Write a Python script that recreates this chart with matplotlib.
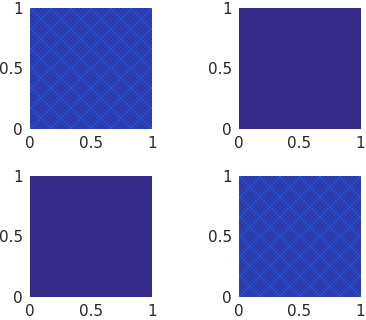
import numpy as np
import matplotlib
matplotlib.use("Agg")
import matplotlib.pyplot as plt
from matplotlib.colors import LinearSegmentedColormap

# colours, dark to bright
field_colors = ["#352a87", "#2b3fb4", "#1f52cf", "#1565dc"]

tick_values = [0, 0.5, 1]
tick_labels = ["0", "0.5", "1"]

# one repeat of the texture, estimated by eye from the zoomed crops
motif = [
    [0.85, 0.30, 0.38, 0.20, 0.38, 0.20, 0.38, 0.20, 0.38, 0.30],
    [0.30, 0.62, 0.30, 0.38, 0.20, 0.38, 0.20, 0.38, 0.30, 0.62],
    [0.38, 0.30, 0.62, 0.30, 0.38, 0.20, 0.38, 0.30, 0.62, 0.30],
    [0.20, 0.38, 0.30, 0.62, 0.30, 0.38, 0.30, 0.62, 0.30, 0.38],
    [0.38, 0.20, 0.38, 0.30, 0.62, 0.30, 0.62, 0.30, 0.38, 0.20],
    [0.20, 0.38, 0.20, 0.38, 0.30, 0.85, 0.30, 0.38, 0.20, 0.38],
    [0.38, 0.20, 0.38, 0.30, 0.62, 0.30, 0.62, 0.30, 0.38, 0.20],
    [0.20, 0.38, 0.30, 0.62, 0.30, 0.38, 0.30, 0.62, 0.30, 0.38],
    [0.38, 0.30, 0.62, 0.30, 0.38, 0.20, 0.38, 0.30, 0.62, 0.30],
    [0.30, 0.62, 0.30, 0.38, 0.20, 0.38, 0.20, 0.38, 0.30, 0.62],
]
flat_field = [[0.0, 0.0], [0.0, 0.0]]

textured = np.tile(np.array(motif), (7, 7))[:61, :61]
flat = np.array(flat_field)
panel_data = [textured, flat, flat, textured]

# axes boxes in pixels: left, top, right, bottom
W, H = 366, 320
boxes = [(30, 8, 152, 129), (239, 8, 360, 129),
         (30, 176, 152, 297), (239, 176, 360, 297)]

cmap = LinearSegmentedColormap.from_list("field", field_colors)

fig = plt.figure(figsize=(W / 100, H / 100), dpi=100)

for data, (x0, y0, x1, y1) in zip(panel_data, boxes):
    ax = fig.add_axes([x0 / W, 1 - y1 / H, (x1 - x0) / W, (y1 - y0) / H])
    ax.imshow(data, cmap=cmap, vmin=0, vmax=1, origin="lower",
              extent=(0, 1, 0, 1), aspect="auto", interpolation="nearest")
    ax.set_xticks(tick_values)
    ax.set_xticklabels(tick_labels)
    ax.set_yticks(tick_values)
    ax.set_yticklabels(tick_labels)
    ax.tick_params(length=0, labelsize=11, labelcolor="#262626", pad=5)
    for spine in ax.spines.values():
        spine.set_visible(False)

fig.savefig("out.png", dpi=100)
